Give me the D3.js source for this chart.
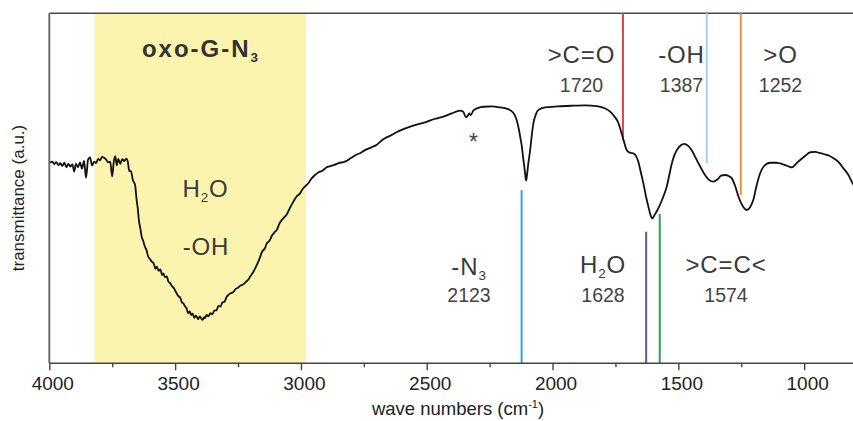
<!DOCTYPE html>
<html>
<head>
<meta charset="utf-8">
<script src="https://cdn.jsdelivr.net/npm/d3@7/dist/d3.min.js"></script>
<style>
  html, body { margin: 0; padding: 0; background: #fff; }
  svg { display: block; font-family: "Liberation Sans", Arial, Helvetica, sans-serif; }
</style>
</head>
<body>
<svg id="chart" width="853" height="421"></svg>
<script>
// FT-IR spectrum of oxo-G-N3: [wave number (cm-1), transmittance (a.u.)]
const spectrum = [
  [3997,57.3],[3988,57.6],[3980,56.9],[3972,57.5],[3964,56.6],[3956,57.2],[3948,56.4],[3940,57.3],
  [3932,56.0],[3924,57.0],[3916,56.2],[3908,56.8],[3901,54.8],[3894,57.0],[3886,56.0],[3878,57.4],
  [3870,55.6],[3862,57.8],[3854,53.0],[3846,58.2],[3838,58.8],[3830,56.5],[3822,57.6],[3814,57.2],
  [3806,58.4],[3798,58.0],[3790,59.0],[3782,58.7],[3774,58.2],[3766,57.4],[3758,57.6],[3750,53.4],
  [3744,57.5],[3738,59.2],[3732,56.6],[3726,58.4],[3718,57.0],[3710,58.3],[3702,57.8],[3694,58.5],
  [3688,57.6],[3682,54.9],[3676,55.0],[3668,52.4],[3659,50.9],[3653,46.7],[3648,44.0],[3644,40.9],
  [3638,38.5],[3633,36.2],[3627,35.0],[3620,33.3],[3614,32.4],[3607,30.5],[3600,29.8],[3592,29.0],
  [3585,28.5],[3578,27.0],[3573,27.6],[3565,26.4],[3558,26.8],[3552,25.2],[3547,25.7],[3540,24.6],
  [3533,24.8],[3527,23.4],[3520,22.9],[3512,22.0],[3505,21.5],[3500,20.8],[3494,20.0],[3487,19.2],
  [3480,18.8],[3473,17.4],[3467,17.1],[3460,16.2],[3455,15.8],[3448,14.3],[3442,14.8],[3436,13.8],
  [3430,14.2],[3424,13.0],[3418,13.6],[3414,13.3],[3408,12.6],[3402,13.4],[3397,12.9],[3390,12.4],
  [3385,13.2],[3381,12.9],[3375,13.8],[3368,13.4],[3360,14.3],[3352,14.0],[3345,15.0],[3335,15.2],
  [3328,16.4],[3320,16.2],[3312,17.4],[3304,17.6],[3295,19.0],[3289,19.5],[3280,20.0],[3270,20.3],
  [3260,21.2],[3250,21.6],[3240,22.2],[3230,22.5],[3218,23.3],[3208,24.0],[3200,25.0],[3190,26.0],
  [3182,27.1],[3172,28.6],[3163,30.2],[3155,31.8],[3143,32.9],[3136,34.2],[3125,35.0],[3115,36.5],
  [3103,37.6],[3096,38.1],[3085,40.0],[3070,41.4],[3056,42.6],[3045,44.2],[3030,46.2],[3018,47.6],
  [3005,48.4],[2995,49.6],[2984,50.5],[2970,51.5],[2960,52.6],[2944,53.8],[2930,54.6],[2915,55.0],
  [2900,55.9],[2891,56.2],[2870,56.6],[2850,57.2],[2825,57.6],[2800,58.7],[2780,59.6],[2765,60.0],
  [2745,60.9],[2720,61.7],[2700,62.4],[2680,63.6],[2666,64.3],[2640,65.2],[2620,66.0],[2600,66.7],
  [2566,67.6],[2530,68.4],[2500,69.0],[2470,69.8],[2434,70.5],[2400,71.4],[2368,72.2],[2355,71.9],
  [2344,70.3],[2338,70.6],[2331,71.4],[2325,70.9],[2315,72.2],[2295,73.0],[2275,73.3],[2240,73.4],
  [2209,73.1],[2180,72.7],[2156,71.6],[2145,70.0],[2136,67.6],[2128,64.5],[2122,61.9],[2117,58.8],
  [2113,56.7],[2108,53.5],[2105,52.2],[2102,53.5],[2097,56.7],[2093,58.8],[2089,60.9],[2082,65.5],
  [2076,68.6],[2066,71.2],[2056,72.4],[2030,73.1],[1980,73.4],[1917,73.6],[1870,73.7],[1824,73.5],
  [1790,72.8],[1771,71.9],[1755,70.6],[1738,68.6],[1728,66.3],[1718,63.8],[1705,60.9],[1690,60.1],
  [1679,60.0],[1668,59.2],[1659,57.6],[1650,54.8],[1639,51.4],[1629,47.8],[1619,44.7],[1610,42.2],
  [1603,41.4],[1596,42.2],[1583,43.8],[1570,45.8],[1560,47.6],[1546,50.5],[1536,53.8],[1526,57.1],
  [1516,59.4],[1506,60.9],[1490,62.3],[1477,62.7],[1462,62.2],[1447,60.9],[1427,58.1],[1410,55.8],
  [1394,53.8],[1378,52.4],[1361,51.9],[1345,52.5],[1330,53.6],[1314,53.8],[1300,53.5],[1288,52.9],
  [1275,50.8],[1261,47.6],[1245,45.0],[1228,43.8],[1215,44.6],[1202,46.7],[1190,50.5],[1175,54.3],
  [1160,56.3],[1135,57.3],[1110,57.3],[1096,57.1],[1075,56.6],[1060,56.2],[1049,56.0],[1030,57.2],
  [1016,58.1],[995,59.3],[976,60.3],[955,60.4],[940,60.1],[923,59.8],[900,59.3],[884,58.6],
  [865,57.6],[844,55.7],[825,53.9],[811,51.9],[800,50.5]
];

// Shaded O-H / H2O stretching region (cm-1)
const bandRange = [3820, 2980];

// Assigned bands
const peakWaves  = [2123, 1720, 1628, 1574, 1387, 1252];
const peakGroups = ["-N3", ">C=O", "H2O", ">C=C<", "-OH", ">O"];
// marker line extents along the transmittance axis (a.u.)
const peakLineFrom = [0, 100, 0, 0, 100, 100];
const peakLineTo   = [49.5, 63.8, 37.6, 42.7, 57.2, 48.1];

const majorTicks = [4000, 3500, 3000, 2500, 2000, 1500, 1000];
const minorTicks = [3750, 3250, 2750, 2250, 1750, 1250];

// ---- layout ----
const W = 853, H = 421;
const plotL = 49.3, plotR = 854.5, plotT = 13.3, plotB = 363.3;

const x = d3.scaleLinear().domain([4000, 800]).range([plotL, plotR]);
const y = d3.scaleLinear().domain([0, 100]).range([plotB, plotT]);

const svg = d3.select("#chart");

const peakColor = d3.scaleOrdinal()
  .domain(peakWaves)
  .range(["#2ea6e0", "#e2474c", "#5a5aa6", "#2ea34f", "#a2d4f1", "#f28d3a"]);

// label placement (px), keyed by band
const labelLayout = {
  2123: { cx: 469, nameY: 275, numY: 302 },
  1720: { cx: 581.5, nameY: 63, numY: 92 },
  1628: { cx: 603, nameY: 273, numY: 302 },
  1574: { cx: 726, nameY: 273, numY: 302 },
  1387: { cx: 681.5, nameY: 63, numY: 92 },
  1252: { cx: 780.5, nameY: 63, numY: 92 }
};

// shaded band
svg.append("rect")
  .attr("x", x(bandRange[0]))
  .attr("y", plotT)
  .attr("width", x(bandRange[1]) - x(bandRange[0]))
  .attr("height", plotB - plotT)
  .attr("fill", "#faf4ae");

// frame: top border and left axis
svg.append("line")
  .attr("x1", plotL).attr("x2", W).attr("y1", plotT).attr("y2", plotT)
  .attr("stroke", "#4a4a4a").attr("stroke-width", 1.6);
svg.append("line")
  .attr("x1", plotL).attr("x2", plotL).attr("y1", plotT).attr("y2", plotB)
  .attr("stroke", "#6e6e6e").attr("stroke-width", 2);

// marker lines
peakWaves.forEach((w, i) => {
  svg.append("line")
    .attr("x1", x(w)).attr("x2", x(w))
    .attr("y1", y(peakLineFrom[i])).attr("y2", y(peakLineTo[i]))
    .attr("stroke", peakColor(w))
    .attr("stroke-width", 2);
});

// spectrum trace
const line = d3.line()
  .x(d => x(d[0]))
  .y(d => y(d[1]))
  .curve(d3.curveMonotoneX);

svg.append("path")
  .datum(spectrum)
  .attr("d", line)
  .attr("fill", "none")
  .attr("stroke", "#111")
  .attr("stroke-width", 1.8)
  .attr("stroke-linejoin", "round");

// x axis
const axisG = svg.append("g").attr("transform", `translate(0,${plotB})`);
axisG.call(d3.axisBottom(x).tickValues(majorTicks).tickSize(7).tickSizeOuter(0).tickFormat(d3.format("d")));
axisG.select(".domain").attr("stroke", "#444").attr("stroke-width", 1.6)
  .attr("d", `M${plotL},0H${W}`);
axisG.selectAll(".tick line").attr("stroke", "#444").attr("stroke-width", 1.4);
axisG.selectAll(".tick text")
  .attr("font-size", 19).attr("fill", "#222").attr("y", 13).attr("dx", 3)
  .attr("font-family", "Liberation Sans, Arial, sans-serif");

const minorG = svg.append("g").attr("transform", `translate(0,${plotB})`);
minorG.call(d3.axisBottom(x).tickValues(minorTicks).tickSize(4).tickFormat(""));
minorG.select(".domain").remove();
minorG.selectAll(".tick line").attr("stroke", "#444").attr("stroke-width", 1.4);

// axis titles
const xt = svg.append("text")
  .attr("x", 458).attr("y", 415)
  .attr("text-anchor", "middle")
  .attr("font-size", 18.5).attr("fill", "#222");
xt.append("tspan").text("wave numbers (cm");
xt.append("tspan").text("-1").attr("font-size", 11).attr("dy", -7);
xt.append("tspan").text(")").attr("dy", 7);

svg.append("text")
  .attr("transform", "translate(24,198) rotate(-90)")
  .attr("text-anchor", "middle")
  .attr("font-size", 17).attr("fill", "#222")
  .text("transmittance (a.u.)");

// helper: text with numeric subscripts
function richText(g, str, opts) {
  const t = g.append("text")
    .attr("x", opts.x).attr("y", opts.y)
    .attr("text-anchor", "middle")
    .attr("font-size", opts.size)
    .attr("font-weight", opts.weight || "normal")
    .attr("letter-spacing", opts.spacing || 0)
    .attr("fill", opts.fill);
  const parts = str.match(/(\d+|\D+)/g);
  const shift = opts.size * 0.2;
  let shifted = false;
  parts.forEach(p => {
    const isSub = /^\d+$/.test(p);
    const ts = t.append("tspan").text(p);
    if (isSub) {
      ts.attr("font-size", opts.size * 0.56).attr("dy", shift);
      shifted = true;
    } else if (shifted) {
      ts.attr("dy", -shift);
      shifted = false;
    }
  });
  return t;
}

const labels = svg.append("g");

// band annotations
peakWaves.forEach((w, i) => {
  const L = labelLayout[w];
  richText(labels, peakGroups[i], { x: L.cx, y: L.nameY, size: 24, spacing: 0.9, fill: "#3a3a3a" });
  labels.append("text")
    .attr("x", L.cx).attr("y", L.numY)
    .attr("text-anchor", "middle")
    .attr("font-size", 19.5).attr("fill", "#444")
    .text(w);
});

// shaded-region annotations
richText(labels, "oxo-G-N3", { x: 201, y: 57, size: 24, spacing: 2, weight: "bold", fill: "#333" });
richText(labels, "H2O", { x: 205.5, y: 197, size: 24, spacing: 0.9, fill: "#3a3a3a" });
richText(labels, "-OH", { x: 206, y: 255, size: 24, spacing: 0.9, fill: "#3a3a3a" });

// CO2 artefact marker
labels.append("text")
  .attr("x", 473.5).attr("y", 150)
  .attr("text-anchor", "middle")
  .attr("font-size", 23).attr("fill", "#444")
  .text("*");
</script>
</body>
</html>
